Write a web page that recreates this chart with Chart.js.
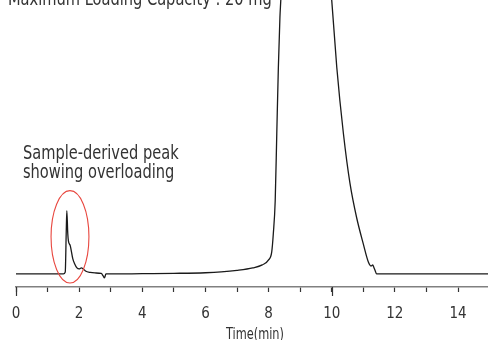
<!DOCTYPE html>
<html>
<head>
<meta charset="utf-8">
<script src="https://cdn.jsdelivr.net/npm/chart.js@4/dist/chart.umd.min.js"></script>
<style>
  html, body { margin: 0; padding: 0; background: #fff; }
  #wrap { width: 488px; height: 340px; position: relative; }
</style>
</head>
<body>
<div id="wrap"><canvas id="c" width="488" height="340"></canvas></div>
<script>
// ---- data (time in min, detector signal in arbitrary units above baseline) ----
const timeMin = [0, 1.5, 1.56, 1.59, 1.61, 1.64, 1.66, 1.72, 1.8, 1.86, 1.93, 2.0, 2.07, 2.13, 2.2, 2.35, 2.5, 2.7, 2.76, 2.8, 2.85, 3.0,
  4.0, 5.0, 6.0, 6.5, 7.0, 7.5, 7.8, 8.0, 8.1, 8.15, 8.21, 8.26, 8.31, 8.36, 8.39, 8.45, 8.6, 9.0, 9.5, 9.9,
  10.0, 10.16, 10.37, 10.58, 10.79, 11.0, 11.16, 11.25, 11.3, 11.33, 11.38, 11.42, 12.0, 15.0];
const signal = [0, 0, 2, 40, 63, 40, 33, 28, 15, 10, 6, 5, 6, 5, 3, 1.5, 1, 0.5, -2, -4, 0, 0,
  0.3, 0.6, 1.2, 2, 3.5, 6, 9, 14, 22, 40, 73, 140, 206, 256, 275, 330, 420, 480, 450, 320,
  273, 206, 140, 90, 56, 30, 12, 8, 9, 7, 3, 0, 0, 0];
const xTickLabels = [0, 2, 4, 6, 8, 10, 12, 14];
const longTicks = [0, 10];
const titleText = "Maximum Loading Capacity : 20 mg";
const noteLines = ["Sample-derived peak", "showing overloading"];
const axisTitle = "Time(min)";
// highlighted region (ellipse) around overloaded peak: centre time, centre signal, half-width (min), half-height (signal)
const highlight = { t: 1.71, s: 37, dt: 0.6, ds: 46 };

const FONT = "'Liberation Sans Narrow', 'DejaVu Sans Condensed', sans-serif";
const SQUEEZE = 0.855;

function narrowText(ctx, text, x, y, size, squeeze, align) {
  ctx.save();
  ctx.font = size + "px " + FONT;
  ctx.textBaseline = 'alphabetic';
  ctx.textAlign = align || 'left';
  ctx.translate(x, y);
  ctx.scale(squeeze, 1);
  ctx.fillText(text, 0, 0);
  ctx.restore();
}

const overlay = {
  id: 'overlay',
  afterDraw(chart) {
    const ctx = chart.ctx;
    const xs = chart.scales.x, ys = chart.scales.y;
    ctx.save();
    // long ticks
    ctx.strokeStyle = '#333';
    ctx.lineWidth = 1.2;
    const yb = chart.chartArea.bottom;
    longTicks.forEach(v => {
      const px = Math.round(xs.getPixelForValue(v)) + 0.5;
      ctx.beginPath(); ctx.moveTo(px, yb); ctx.lineTo(px, yb + 9); ctx.stroke();
    });
    // ellipse
    const cx = xs.getPixelForValue(highlight.t);
    const cy = ys.getPixelForValue(highlight.s);
    const rx = Math.abs(xs.getPixelForValue(highlight.t + highlight.dt) - cx);
    const ry = Math.abs(ys.getPixelForValue(highlight.s + highlight.ds) - cy);
    ctx.strokeStyle = '#e8473f';
    ctx.lineWidth = 1.1;
    ctx.beginPath(); ctx.ellipse(cx, cy, rx, ry, 0, 0, Math.PI * 2); ctx.stroke();
    // texts
    ctx.fillStyle = '#333';
    narrowText(ctx, titleText, 8, 5, 19, SQUEEZE);
    const lx = xs.getPixelForValue(0.22);
    narrowText(ctx, noteLines[0], lx, 158.5, 19, SQUEEZE);
    narrowText(ctx, noteLines[1], lx, 178, 19, SQUEEZE);
    // axis title
    const midX = (chart.chartArea.left + chart.chartArea.right) / 2 + 3;
    narrowText(ctx, axisTitle, midX, 339, 15, 0.84, 'center');
    ctx.restore();
  }
};

new Chart(document.getElementById('c'), {
  type: 'line',
  data: {
    datasets: [{
      data: timeMin.map((t, i) => ({ x: t, y: signal[i] })),
      borderColor: '#1a1a1a',
      borderWidth: 1.3,
      pointRadius: 0,
      fill: false,
      cubicInterpolationMode: 'monotone'
    }]
  },
  options: {
    responsive: false,
    animation: false,
    devicePixelRatio: 1,
    layout: { padding: { left: 16, right: 0, top: 0, bottom: 4 } },
    plugins: { legend: { display: false }, tooltip: { enabled: false } },
    scales: {
      x: {
        type: 'linear',
        min: 0,
        max: 14.95,
        afterFit(scale) { scale.paddingLeft = 0; scale.paddingRight = 0; },
        border: { display: true, color: '#808080', width: 1.5 },
        grid: { display: true, drawOnChartArea: false, tickLength: 5, tickColor: '#333', tickWidth: 1.2 },
        ticks: {
          stepSize: 1,
          includeBounds: false,
          autoSkip: false,
          maxRotation: 0,
          padding: 13,
          color: '#333',
          font: { family: FONT, size: 15 },
          callback: v => xTickLabels.includes(v) ? String(v) : ''
        },
        title: { display: false }
      },
      y: {
        display: false,
        min: -13,
        max: 273
      }
    }
  },
  plugins: [overlay]
});
</script>
</body>
</html>
